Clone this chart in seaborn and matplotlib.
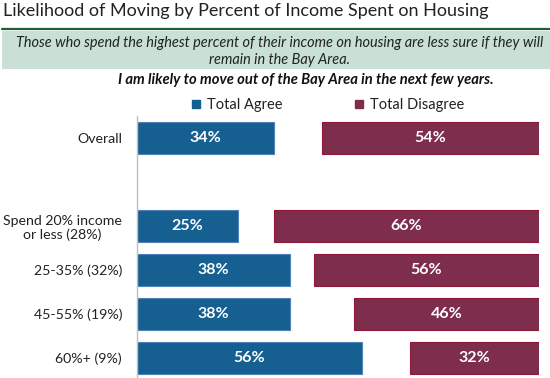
import numpy as np
import pandas as pd
import seaborn as sns
import matplotlib.pyplot as plt
from matplotlib.lines import Line2D
from matplotlib.patches import Rectangle

# Data
groups = ["Overall", " ", "Spend 20% income\nor less (28%)", "25-35% (32%)",
          "45-55% (19%)", "60%+ (9%)"]
agree = [34, np.nan, 25, 38, 38, 56]
disagree = [54, np.nan, 66, 56, 46, 32]

blue = "#166091"
red = "#7E2E4C"

df = pd.DataFrame({"group": groups, "agree": agree, "disagree": disagree})
df = df.dropna()

sns.set_style("white")
plt.rcParams["font.family"] = ["Lato", "DejaVu Sans"]

W, H = 550, 378
fig = plt.figure(figsize=(W / 100, H / 100), dpi=100)
renderer = fig.canvas.get_renderer()


def fit(txt, target_px):
    # shrink/grow a text so it spans target_px wide (Lato is wider than Calibri)
    w = txt.get_window_extent(renderer).width
    txt.set_fontsize(txt.get_fontsize() * target_px / w)
    return txt


# size for the category labels, measured on one label
probe = fig.text(0, 0, "25-35% (32%)", fontsize=10)
fit(probe, 88)
label_size = probe.get_fontsize()
probe.remove()

ax = fig.add_axes([137 / W, (H - 380) / H, 402 / W, 264 / H])

sns.barplot(data=df, x="agree", y="group", order=groups, color=blue,
            width=0.73, edgecolor="#4F83B8", linewidth=0.8, saturation=1, ax=ax)
n_agree = len(ax.patches)
sns.barplot(data=df, x="disagree", y="group", order=groups, color=red,
            width=0.73, edgecolor="#8E1838", linewidth=0.8, saturation=1, ax=ax)

# disagree bars are right-aligned at 100
for p in ax.patches[n_agree:]:
    p.set_x(100 - p.get_width())

for p in ax.patches:
    w = p.get_width()
    ax.text(p.get_x() + w / 2, p.get_y() + p.get_height() / 2, f"{w:.0f}%",
            ha="center", va="center", color="white", fontsize=11.5,
            fontweight="bold")

ax.set_xlim(0, 100)
ax.set_ylim(len(groups) - 0.5, -0.5)
ax.set_xlabel("")
ax.set_ylabel("")
ax.set_xticks([])
for s in ["top", "right", "bottom"]:
    ax.spines[s].set_visible(False)
ax.spines["left"].set_color("#BFBFBF")
ax.spines["left"].set_linewidth(1)
ax.set_yticks(range(len(groups)))
ax.set_yticklabels(groups, fontsize=label_size, color="#222222",
                   multialignment="center")
ax.set_yticks(np.arange(-0.5, len(groups), 1), minor=True)
ax.tick_params(axis="y", which="major", length=0, pad=10.8)
ax.tick_params(axis="y", which="minor", length=4, color="#BFBFBF", direction="out")

# header
t = fig.text(3 / W, 1 - 11 / H, "Likelihood of Moving by Percent of Income Spent on Housing",
             ha="left", va="center", fontsize=14, color="#222222")
fit(t, 490)
fig.add_artist(Line2D([2 / W, 1], [1 - 29 / H] * 2, color="#1F5E36", lw=1.6))
fig.add_artist(Rectangle((2 / W, 1 - 69 / H), 548 / W, 38 / H,
                         facecolor="#C9E0D6", edgecolor="none"))
t = fig.text(280 / W, 1 - 51.5 / H,
             "Those who spend the highest percent of their income on housing are less sure if they will\nremain in the Bay Area.",
             ha="center", va="center", fontsize=10, style="italic", color="#222222",
             linespacing=1.3)
fit(t, 530)
t = fig.text(306 / W, 1 - 80 / H, "I am likely to move out of the Bay Area in the next few years.",
             ha="center", va="center", fontsize=10, style="italic", fontweight="bold",
             color="#111111")
fit(t, 376)

handles = [Line2D([], [], marker="s", ls="", color=blue, markersize=6),
           Line2D([], [], marker="s", ls="", color=red, markersize=6)]
fig.legend(handles, ["Total Agree", "Total Disagree"], ncol=2, frameon=False,
           loc="center", bbox_to_anchor=(328 / W, 1 - 105 / H), fontsize=10.5,
           handlelength=0.6, handletextpad=0.4, columnspacing=5,
           labelcolor="#222222")

fig.savefig("out.png", dpi=100)
